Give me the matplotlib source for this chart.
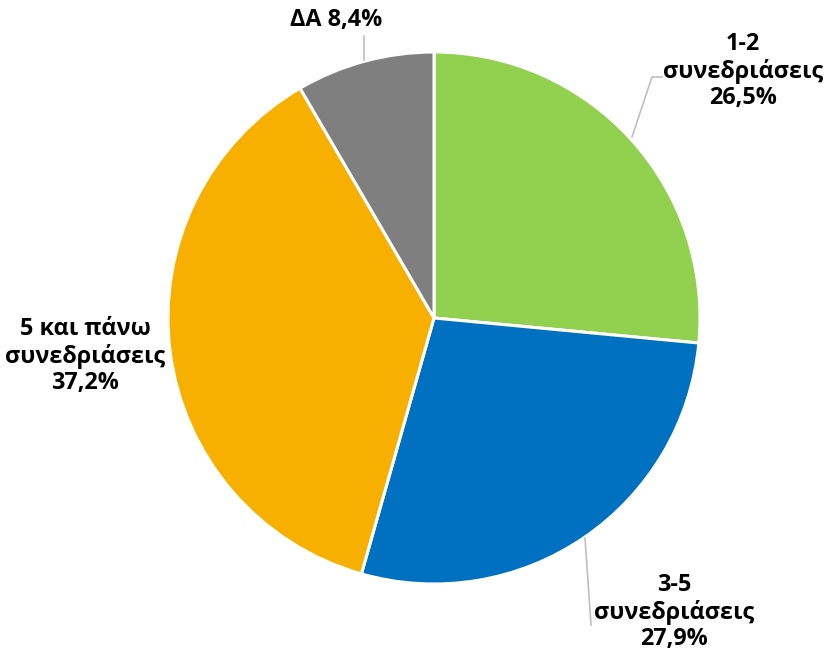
import matplotlib
matplotlib.use("Agg")
import matplotlib.pyplot as plt

labels = ["1-2\nσυνεδριάσεις", "3-5\nσυνεδριάσεις", "5 και πάνω\nσυνεδριάσεις", "ΔΑ"]
values = [26.5, 27.9, 37.2, 8.4]
value_text = ["26,5%", "27,9%", "37,2%", "8,4%"]
colors = ["#92D050", "#0070C0", "#F8B000", "#7F7F7F"]

W, H = 825, 658
fig = plt.figure(figsize=(W / 100, H / 100), dpi=100)
ax = fig.add_axes([0, 0, 1, 1])
ax.set_xlim(0, W)
ax.set_ylim(0, H)
ax.set_aspect("equal")
ax.axis("off")

cx, cy, r = 434, H - 318, 266
ax.pie(values, colors=colors, startangle=90, counterclock=False,
       center=(cx, cy), radius=r, frame=True,
       wedgeprops=dict(edgecolor="white", linewidth=2.2))
ax.set_xlim(0, W)
ax.set_ylim(0, H)
ax.axis("off")

fam = ["Open Sans", "DejaVu Sans"]
fs = 16.8
txt = dict(fontsize=fs, fontweight="bold", family=fam, color="black",
           ha="center", va="center", linespacing=1.13)

full = [labels[i] + ("\n" if i < 3 else " ") + value_text[i] for i in range(4)]
pos = [(743, H - 71), (674, H - 612), (85, H - 356), (336, H - 20)]
for t, (x, y) in zip(full, pos):
    ax.text(x, y, t, **txt)

lc = "#BFBFBF"
ax.plot([632, 652, 662], [H - 137, H - 77, H - 77], color=lc, lw=1.2)
ax.plot([585, 591], [H - 538, H - 625], color=lc, lw=1.2)
ax.plot([364, 364], [H - 60, H - 36], color=lc, lw=1.2)

fig.savefig("out.png", dpi=100)
